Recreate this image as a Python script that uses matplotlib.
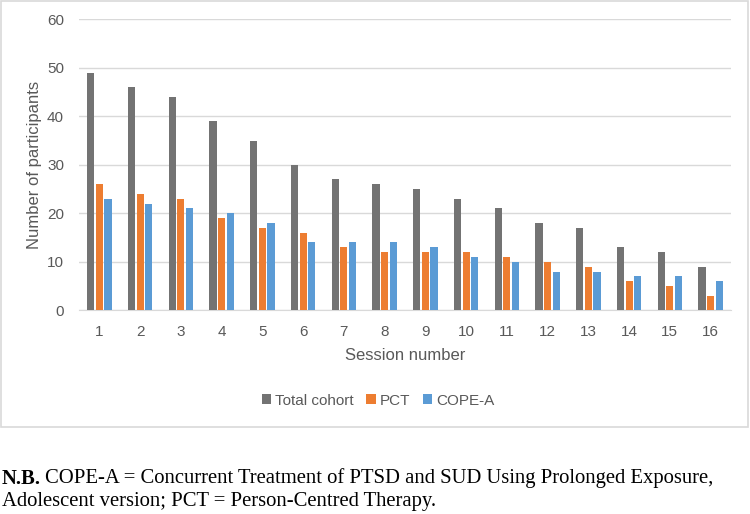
import matplotlib
matplotlib.use("Agg")
import matplotlib.pyplot as plt
from matplotlib.patches import Rectangle
import numpy as np

# data
sessions = [str(i) for i in range(1, 17)]
total_cohort = [49, 46, 44, 39, 35, 30, 27, 26, 25, 23, 21, 18, 17, 13, 12, 9]
pct = [26, 24, 23, 19, 17, 16, 13, 12, 12, 12, 11, 10, 9, 6, 5, 3]
cope_a = [23, 22, 21, 20, 18, 14, 14, 14, 13, 11, 10, 8, 8, 7, 7, 6]

series_names = ["Total cohort", "PCT", "COPE-A"]
colors = ["#737373", "#ED7D31", "#5B9BD5"]
TXT = "#595959"

W, H = 750, 514
plt.rcParams["font.family"] = ["Liberation Sans", "DejaVu Sans"]

fig = plt.figure(figsize=(W / 100, H / 100), dpi=100)
# axes placement in pixels: left 79, right 731, top 19.3, bottom 310.3
AX_L, AX_R, AX_T, AX_B = 79, 731, 19.3, 310.3
ax = fig.add_axes([AX_L / W, 1 - AX_B / H, (AX_R - AX_L) / W, (AX_B - AX_T) / H])

x = np.arange(len(sessions))
bw = 0.177
step = 0.21
for k, (vals, name, c) in enumerate(zip([total_cohort, pct, cope_a], series_names, colors)):
    ax.bar(x + (k - 1) * step, vals, bw, color=c, label=name, zorder=3)

ax.set_xlim(-0.5, len(sessions) - 0.5)
ax.set_ylim(0, 60)
ax.set_yticks(range(0, 61, 10))
ax.set_xticks(x)
ax.set_xticklabels(sessions)
ax.grid(axis="y", color="#D9D9D9", linewidth=1, zorder=0)
for s in ["top", "right", "left"]:
    ax.spines[s].set_visible(False)
ax.spines["bottom"].set_color("#D9D9D9")
ax.tick_params(axis="both", length=0, labelsize=11, colors=TXT)
ax.tick_params(axis="x", pad=10.5)
ax.tick_params(axis="y", pad=10.8)

ax.set_xlabel("Session number", fontsize=12, color=TXT)
ax.xaxis.set_label_coords(0.5, (AX_B - 355) / (AX_B - AX_T))
ax.xaxis.label.set_verticalalignment("center")
ax.set_ylabel("Number of participants", fontsize=12, color=TXT)
ax.yaxis.set_label_coords((35 - AX_L) / (AX_R - AX_L), 0.5)
ax.yaxis.label.set_verticalalignment("center")

fig.legend(loc="center", bbox_to_anchor=(378 / W, 1 - 400.7 / H), ncol=3,
           frameon=False, fontsize=11, handlelength=0.6, handleheight=0.6,
           handletextpad=0.25, columnspacing=0.85, labelcolor=TXT)

# chart border
fig.patches.append(Rectangle((1 / W, 1 - 427 / H), 747 / W, 426 / H,
                             transform=fig.transFigure, fill=False,
                             edgecolor="#D9D9D9", linewidth=1.2))

# caption below chart
CAP = dict(family="Liberation Serif", fontsize=14.9, va="baseline", ha="left")
nb = fig.text(2 / W, 1 - 483.5 / H, "N.B.", fontweight="bold", **CAP)
r = fig.canvas.get_renderer()
nb_right = nb.get_window_extent(r).x1
fig.text((nb_right + 4) / W, 1 - 483.5 / H,
         "COPE-A = Concurrent Treatment of PTSD and SUD Using Prolonged Exposure,", **CAP)
fig.text(2 / W, 1 - 506 / H, "Adolescent version; PCT = Person-Centred Therapy.", **CAP)

fig.savefig("out.png", dpi=100)
